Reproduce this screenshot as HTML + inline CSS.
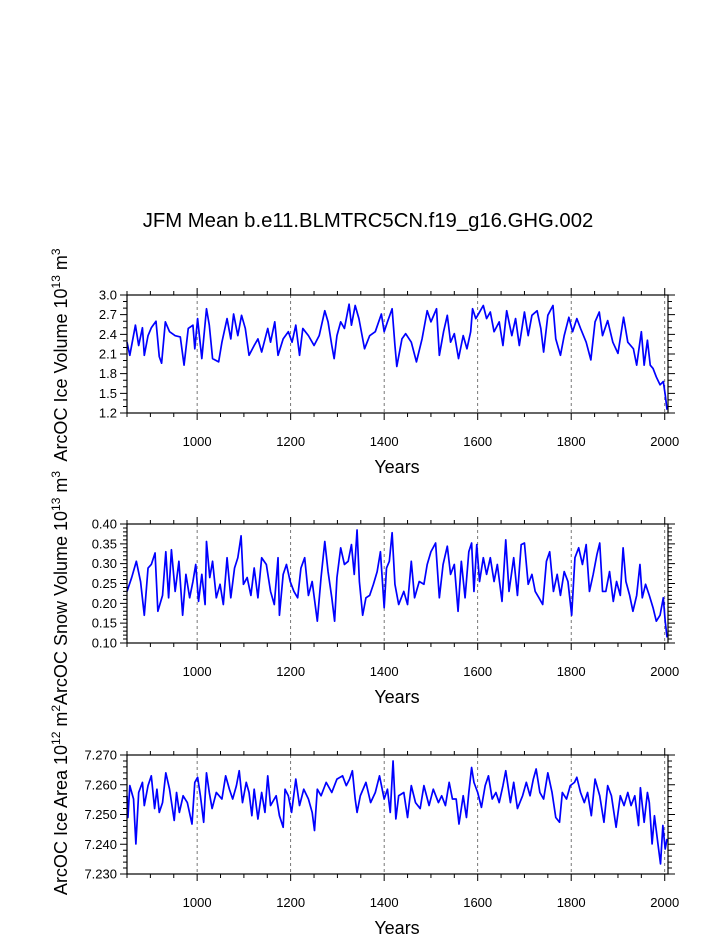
<!DOCTYPE html>
<html><head><meta charset="utf-8"><style>
html,body{margin:0;padding:0;background:#fff}
svg{display:block;font-family:"Liberation Sans",Arial,sans-serif}
</style></head><body>
<svg id="chart" width="723" height="935" viewBox="0 0 723 935" xmlns="http://www.w3.org/2000/svg">
<text x="368" y="227" font-size="20.3" text-anchor="middle">JFM Mean b.e11.BLMTRC5CN.f19_g16.GHG.002</text>
</svg>
<script>
const iceYears=[850,856,868,875,883,887,895,902,912,919,924,932,941,953,964,972,981,991,995,1001,1010,1020,1026,1033,1046,1053,1064,1072,1078,1087,1095,1103,1111,1122,1130,1138,1151,1157,1166,1173,1184,1195,1203,1211,1219,1226,1238,1250,1261,1273,1280,1288,1293,1299,1307,1315,1325,1330,1338,1346,1358,1369,1381,1394,1400,1407,1417,1423,1427,1438,1446,1458,1469,1481,1492,1500,1512,1518,1527,1535,1542,1550,1559,1569,1577,1585,1589,1596,1604,1612,1619,1627,1635,1646,1654,1662,1673,1681,1689,1700,1708,1716,1727,1735,1741,1750,1761,1767,1777,1785,1795,1803,1812,1820,1832,1842,1851,1860,1867,1878,1889,1900,1912,1921,1933,1940,1950,1956,1963,1969,1975,1982,1990,1997,2001,2005];
const iceVolume=[2.28,2.08,2.54,2.23,2.5,2.08,2.38,2.5,2.6,2.06,1.96,2.59,2.44,2.38,2.36,1.93,2.49,2.54,2.18,2.64,2.03,2.79,2.54,2.03,1.98,2.28,2.64,2.33,2.71,2.38,2.69,2.49,2.08,2.23,2.33,2.13,2.49,2.28,2.59,2.08,2.33,2.44,2.28,2.54,2.08,2.49,2.38,2.23,2.38,2.76,2.59,2.23,2.03,2.38,2.59,2.49,2.86,2.54,2.84,2.64,2.18,2.38,2.44,2.71,2.44,2.59,2.79,2.23,1.91,2.33,2.41,2.28,1.98,2.33,2.76,2.59,2.79,2.08,2.44,2.69,2.28,2.41,2.03,2.38,2.18,2.44,2.79,2.64,2.74,2.84,2.64,2.74,2.44,2.59,2.23,2.76,2.38,2.64,2.23,2.74,2.38,2.69,2.76,2.49,2.13,2.69,2.84,2.33,2.08,2.38,2.66,2.44,2.64,2.49,2.28,2.01,2.59,2.74,2.38,2.61,2.28,2.11,2.66,2.28,2.18,1.93,2.44,1.93,2.31,1.93,1.88,1.75,1.63,1.68,1.48,1.25];
const snowYears=[850,860,870,879,887,895,902,910,916,926,933,939,945,953,961,969,976,984,991,997,1003,1010,1017,1020,1027,1033,1041,1049,1056,1064,1072,1080,1087,1094,1099,1107,1115,1122,1130,1138,1148,1157,1165,1173,1176,1184,1191,1199,1207,1215,1222,1230,1238,1246,1257,1265,1273,1280,1288,1294,1299,1307,1315,1323,1330,1336,1342,1347,1354,1361,1369,1377,1385,1392,1400,1405,1411,1417,1423,1431,1442,1450,1458,1465,1475,1485,1492,1500,1510,1518,1526,1535,1542,1550,1558,1565,1573,1581,1587,1592,1598,1604,1612,1619,1627,1635,1642,1652,1660,1667,1677,1685,1693,1700,1708,1716,1723,1731,1739,1747,1754,1762,1770,1777,1785,1793,1801,1808,1816,1824,1832,1839,1847,1855,1861,1867,1874,1882,1890,1897,1905,1911,1917,1925,1932,1940,1947,1952,1959,1967,1975,1982,1990,1997,2001,2005];
const snowVolume=[0.23,0.265,0.306,0.255,0.17,0.289,0.298,0.327,0.18,0.22,0.33,0.214,0.335,0.23,0.306,0.17,0.273,0.214,0.255,0.298,0.205,0.273,0.197,0.356,0.265,0.306,0.214,0.248,0.197,0.315,0.214,0.289,0.315,0.37,0.248,0.265,0.22,0.289,0.214,0.315,0.298,0.23,0.197,0.315,0.17,0.273,0.298,0.255,0.23,0.214,0.289,0.315,0.22,0.255,0.155,0.265,0.356,0.28,0.214,0.155,0.265,0.34,0.298,0.306,0.348,0.273,0.385,0.255,0.17,0.214,0.22,0.248,0.28,0.33,0.189,0.289,0.306,0.378,0.248,0.197,0.23,0.197,0.306,0.214,0.255,0.248,0.298,0.33,0.352,0.214,0.298,0.344,0.273,0.298,0.18,0.306,0.214,0.33,0.352,0.23,0.348,0.255,0.315,0.273,0.315,0.255,0.298,0.205,0.36,0.23,0.315,0.22,0.348,0.352,0.248,0.273,0.23,0.214,0.197,0.306,0.33,0.23,0.273,0.22,0.28,0.255,0.17,0.315,0.34,0.298,0.348,0.23,0.273,0.323,0.352,0.23,0.23,0.28,0.205,0.255,0.22,0.34,0.255,0.22,0.18,0.22,0.298,0.214,0.248,0.22,0.189,0.155,0.17,0.214,0.155,0.114];
const areaYears=[850,852,856,864,869,875,883,887,895,902,909,914,919,926,933,941,951,956,962,970,979,989,995,1001,1007,1014,1020,1026,1032,1041,1053,1061,1069,1076,1084,1090,1097,1105,1111,1117,1122,1130,1138,1145,1151,1157,1169,1176,1184,1188,1195,1202,1211,1219,1228,1238,1246,1251,1257,1265,1276,1288,1299,1311,1319,1326,1332,1338,1342,1349,1361,1371,1381,1390,1400,1407,1413,1419,1425,1431,1442,1450,1458,1467,1477,1485,1496,1505,1516,1523,1531,1539,1546,1554,1560,1569,1576,1581,1587,1592,1600,1608,1616,1623,1631,1639,1646,1654,1660,1670,1677,1685,1696,1704,1712,1719,1725,1733,1741,1750,1759,1767,1775,1781,1790,1798,1807,1812,1820,1828,1835,1843,1851,1861,1870,1878,1886,1896,1905,1913,1921,1928,1936,1944,1948,1956,1963,1967,1973,1978,1986,1991,1996,2001,2005];
const iceArea=[7.2563,7.249,7.2597,7.2552,7.2401,7.2574,7.2608,7.253,7.2597,7.263,7.252,7.2585,7.2507,7.254,7.264,7.2585,7.248,7.2574,7.2507,7.2563,7.254,7.2468,7.2608,7.2625,7.2563,7.2474,7.264,7.2574,7.252,7.2574,7.2552,7.263,7.2585,7.2552,7.2597,7.2647,7.254,7.2608,7.2574,7.2496,7.2585,7.2485,7.2574,7.2507,7.263,7.253,7.2563,7.2496,7.2457,7.2585,7.2563,7.2507,7.2619,7.253,7.2585,7.2552,7.2507,7.2446,7.2585,7.2563,7.2608,7.2574,7.2619,7.263,7.2597,7.2619,7.2647,7.2552,7.2507,7.2563,7.2608,7.254,7.2574,7.263,7.2552,7.2585,7.2507,7.268,7.2485,7.2563,7.2574,7.249,7.2597,7.254,7.252,7.2597,7.253,7.2585,7.254,7.2563,7.253,7.2608,7.2552,7.2552,7.2468,7.2563,7.249,7.2574,7.2658,7.2608,7.2574,7.2524,7.2597,7.263,7.2552,7.2574,7.254,7.2597,7.2647,7.254,7.2608,7.252,7.2563,7.2608,7.2563,7.2619,7.2653,7.2574,7.2552,7.264,7.2574,7.249,7.2474,7.2574,7.2552,7.2597,7.2608,7.2625,7.2574,7.254,7.2574,7.2496,7.2619,7.2563,7.2474,7.2597,7.2563,7.2457,7.2563,7.253,7.2574,7.253,7.2563,7.2463,7.259,7.2474,7.2574,7.254,7.2401,7.2496,7.2395,7.2334,7.2463,7.2384,7.2418];
const xTickLabels=["1000","1200","1400","1600","1800","2000"];
const iceTicks=["1.2","1.5","1.8","2.1","2.4","2.7","3.0"];
const snowTicks=["0.10","0.15","0.20","0.25","0.30","0.35","0.40"];
const areaTicks=["7.230","7.240","7.250","7.260","7.270"];

const NS="http://www.w3.org/2000/svg";
const svg=document.getElementById('chart');
const X0=127,X1=668,YMIN=850,YMAX=2007;
function xs(yr){return X0+(yr-YMIN)/(YMAX-YMIN)*(X1-X0);}
function mk(tag,attrs,parent){const e=document.createElementNS(NS,tag);for(const k in attrs)e.setAttribute(k,attrs[k]);(parent||svg).appendChild(e);return e;}

function panel(cfg){
  const g=mk('g',{});
  
  
  const top=cfg.top,bot=cfg.bot;
  const ys=v=>bot-(v-cfg.vmin)/(cfg.vmax-cfg.vmin)*(bot-top);
  xTickLabels.forEach(t=>{
    const x=xs(+t);
    const l=mk('line',{x1:x,x2:x,y1:top,y2:bot,stroke:'#555','stroke-width':0.8,'stroke-dasharray':'3,3'},g);
    
    
  });
  let d='';
  cfg.years.forEach((yr,i)=>{d+=(i?'L':'M')+xs(yr).toFixed(2)+','+ys(cfg.vals[i]).toFixed(2);});
  const p=mk('path',{d:d,fill:'none',stroke:'#0000ff','stroke-width':1.7,'stroke-linejoin':'round'},g);
  
  
  const f=mk('rect',{x:X0,y:top,width:X1-X0,height:bot-top,fill:'none',stroke:'#000','stroke-width':1.2},g);
  
  
  let tk='';
  for(let yr=850;yr<=2000;yr+=50){
    const x=xs(yr);const L=(yr%200===0)?7:4;
    tk+=`M${x},${top}v${-L}M${x},${bot}v${L}`;
  }
  const nMin=Math.round((cfg.vmax-cfg.vmin)/cfg.minor);
  for(let i=0;i<=nMin;i++){
    const v=cfg.vmin+i*cfg.minor;const y=ys(v);
    const L=(i%cfg.per===0)?7:4;
    tk+=`M${X0},${y}h${-L}M${X1},${y}h${L}`;
  }
  const t=mk('path',{d:tk,stroke:'#000','stroke-width':1,fill:'none'},g);
  
  
  cfg.ticks.forEach(s=>{
    const tx=mk('text',{x:X0-10,y:ys(+s)+4.5,'font-size':13,'text-anchor':'end'},g);
    
    
    tx.textContent=s;
  });
  xTickLabels.forEach(s=>{
    const tx=mk('text',{x:xs(+s),y:bot+33,'font-size':13,'text-anchor':'middle'},g);
    
    
    tx.textContent=s;
  });
  const xt=mk('text',{x:397,y:bot+60,'font-size':18,'text-anchor':'middle'},g);
  
  
  xt.textContent='Years';
  const yt=mk('text',{transform:`translate(67,${cfg.ytY}) rotate(-90)`,'font-size':18,'text-anchor':'middle'},g);
  
  
  yt.innerHTML=cfg.ytitle;
}
panel({name:'ice-volume',top:295,bot:413,vmin:1.2,vmax:3.0,minor:0.1,per:3,ticks:iceTicks,years:iceYears,vals:iceVolume,ytY:355,
  ytitle:'ArcOC Ice Volume 10<tspan font-size="12" dy="-7">13</tspan><tspan dy="7"> m</tspan><tspan font-size="12" dy="-7">3</tspan>'});
panel({name:'snow-volume',top:524,bot:643,vmin:0.10,vmax:0.40,minor:0.01,per:5,ticks:snowTicks,years:snowYears,vals:snowVolume,ytY:588,
  ytitle:'ArcOC Snow Volume 10<tspan font-size="12" dy="-7">13</tspan><tspan dy="7"> m</tspan><tspan font-size="12" dy="-7">3</tspan>'});
panel({name:'ice-area',top:755,bot:874,vmin:7.230,vmax:7.270,minor:0.002,per:5,ticks:areaTicks,years:areaYears,vals:iceArea,ytY:800,
  ytitle:'ArcOC Ice Area 10<tspan font-size="12" dy="-7">12</tspan><tspan dy="7"> m</tspan><tspan font-size="12" dy="-7">2</tspan>'});
</script>
</body></html>
